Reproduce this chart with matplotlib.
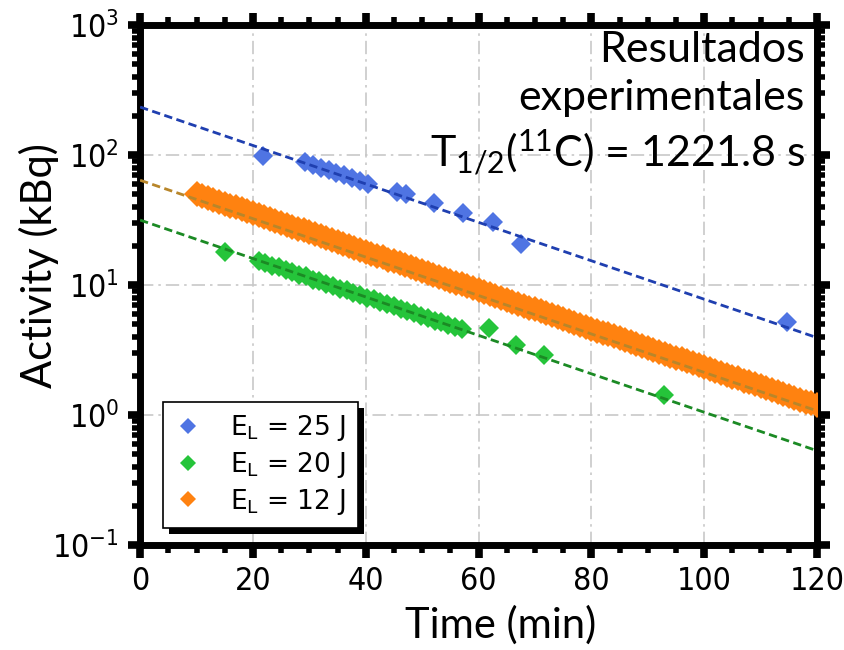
import numpy as np
import matplotlib
matplotlib.use("Agg")
import matplotlib.pyplot as plt
from matplotlib.patches import Rectangle
from matplotlib.transforms import IdentityTransform
from matplotlib.ticker import MultipleLocator, LogLocator, FuncFormatter

plt.rcParams['mathtext.default'] = 'regular'

# measured activities (kBq) vs time (min)
t_25 = [21.7, 29.3, 30.6, 32.0, 33.4, 34.8, 36.2, 37.6, 39.0, 40.4,
        45.6, 47.1, 52.1, 57.2, 62.6, 67.6, 114.7]
a_25 = [98, 88, 84, 80, 77, 73, 70, 66, 63, 60,
        52, 50, 42.5, 35.8, 30.5, 20.7, 5.2]

t_20 = [15.1, 21.0, 22.2, 23.4, 24.6, 25.8, 27.0, 28.2, 29.4, 30.6, 31.8,
        33.0, 34.2, 35.4, 36.6, 37.8, 39.0, 40.2, 41.4, 42.6, 43.8,
        45.0, 46.2, 47.4, 48.6, 49.8, 51.0, 52.2, 53.4, 54.6, 55.8, 57.0,
        61.9, 66.7, 71.6, 92.8]
a_20 = [17.9, 15.2, 14.9, 14.1, 13.7, 13.0, 12.7, 12.0, 11.7, 11.0, 10.8,
        10.2, 9.9, 9.4, 9.1, 8.7, 8.4, 8.0, 7.8, 7.4, 7.1,
        6.85, 6.5, 6.3, 6.05, 5.8, 5.6, 5.3, 5.15, 4.9, 4.75, 4.55,
        4.66, 3.45, 2.9, 1.43]

t_12 = list(range(10, 121))
a_12 = [50.2, 48.5, 46.9, 45.4, 43.8, 42.3, 40.9, 39.6, 38.2, 36.9,
        35.7, 34.5, 33.3, 32.2, 31.1, 30.2, 29.1, 28.1, 27.2, 26.3,
        25.4, 24.6, 23.7, 22.9, 22.1, 21.4, 20.7, 20.0, 19.3, 18.7,
        18.0, 17.4, 16.8, 16.3, 15.7, 15.2, 14.7, 14.2, 13.7, 13.3,
        12.8, 12.4, 12.0, 11.6, 11.2, 10.8, 10.4, 10.1, 9.76, 9.43,
        9.12, 8.81, 8.52, 8.25, 7.96, 7.69, 7.45, 7.19, 6.95, 6.71,
        6.49, 6.27, 6.06, 5.86, 5.66, 5.47, 5.29, 5.11, 4.94, 4.78,
        4.62, 4.46, 4.31, 4.17, 4.05, 3.92, 3.77, 3.64, 3.52, 3.40,
        3.29, 3.18, 3.07, 2.97, 2.87, 2.77, 2.68, 2.59, 2.50, 2.42,
        2.34, 2.26, 2.18, 2.11, 2.04, 1.97, 1.91, 1.84, 1.78, 1.72,
        1.66, 1.61, 1.56, 1.50, 1.45, 1.40, 1.36, 1.31, 1.27, 1.23,
        1.19]

# exponential fits A0 * exp(-ln2 t / T_half)
t_half_s = 1221.8
a0_25, a0_20, a0_12 = 234, 31.6, 64

labels = ['E$_{L}$ = 25 J', 'E$_{L}$ = 20 J', 'E$_{L}$ = 12 J']
marker_colors = ['#4f74e3', '#25c43a', '#ff8210']
line_colors = ['#1f3fb0', '#1b8a24', '#b8862a']

fig = plt.figure(figsize=(8.44, 6.5), dpi=100)
ax = fig.add_axes([0.166, 0.1615, 0.802, 0.8])

ax.plot(t_25, a_25, 'D', ms=10.5, mew=0, color=marker_colors[0], label=labels[0], zorder=3)
ax.plot(t_20, a_20, 'D', ms=10.5, mew=0, color=marker_colors[1], label=labels[1], zorder=3)
ax.plot(t_12, a_12, 'D', ms=13.5, mew=0, color=marker_colors[2], label=labels[2], zorder=3)

lam = np.log(2) / (t_half_s / 60.0)
tt = np.linspace(0, 120, 200)
for a0, c in zip([a0_25, a0_20, a0_12], line_colors):
    ax.plot(tt, a0 * np.exp(-lam * tt), '--', color=c, lw=2, dashes=(3, 1.6), zorder=4)

ax.set_yscale('log')
ax.set_xlim(0, 120)
ax.set_ylim(0.1, 1000)
ax.xaxis.set_major_locator(MultipleLocator(20))
ax.xaxis.set_minor_locator(MultipleLocator(5))
ax.yaxis.set_major_locator(LogLocator(base=10, numticks=10))
ax.yaxis.set_minor_locator(LogLocator(base=10, subs=np.arange(2, 10), numticks=10))
ax.yaxis.set_major_formatter(FuncFormatter(
    lambda v, p: '10$^{%d}$' % round(np.log10(v))))

ax.grid(True, which='major', color='#c8c8c8', lw=1.2, ls=(0, (8, 3, 1.5, 3)), zorder=0)

for sp in ax.spines.values():
    sp.set_linewidth(5)
ax.tick_params(which='major', direction='out', length=9, width=5.5,
               top=True, right=True, labelsize=23, pad=6)
ax.tick_params(which='minor', direction='out', length=6, width=4, top=True, right=True)
for lbl in ax.get_xticklabels() + ax.get_yticklabels():
    lbl.set_family('DejaVu Sans')
    lbl.set_stretch('condensed')

ax.set_xlabel('Time (min)', fontsize=30, family='Lato')
ax.set_ylabel('Activity (kBq)', fontsize=30, family='Lato')
ax.xaxis.set_label_coords(0.532, -0.115)
ax.yaxis.set_label_coords(-0.12, 0.537)

ax.text(0.982, 0.988,
        'Resultados\nexperimentales\nT$_{1/2}$($^{11}$C) = 1221.8 s',
        transform=ax.transAxes, ha='right', va='top', multialignment='right',
        fontsize=31, family='Lato', linespacing=1.3, zorder=6)

leg = ax.legend(loc='upper left', bbox_to_anchor=(0.034, 0.276), fontsize=19,
                frameon=True, fancybox=False, edgecolor='black', framealpha=1,
                handlelength=1.0, handletextpad=1.1, labelspacing=0.25,
                borderpad=0.45, borderaxespad=0)
leg.get_frame().set_linewidth(1.2)
leg.set_zorder(6)
for h in leg.legend_handles:
    h.set_markersize(8.5)

# solid black drop shadow behind the legend box
fig.canvas.draw()
bb = leg.get_window_extent()
ax.add_patch(Rectangle((bb.x0 + 6, bb.y0 - 6), bb.width, bb.height,
                       transform=IdentityTransform(), facecolor='black',
                       edgecolor='none', zorder=5.5, clip_on=False))

fig.savefig('out.png', dpi=100)
